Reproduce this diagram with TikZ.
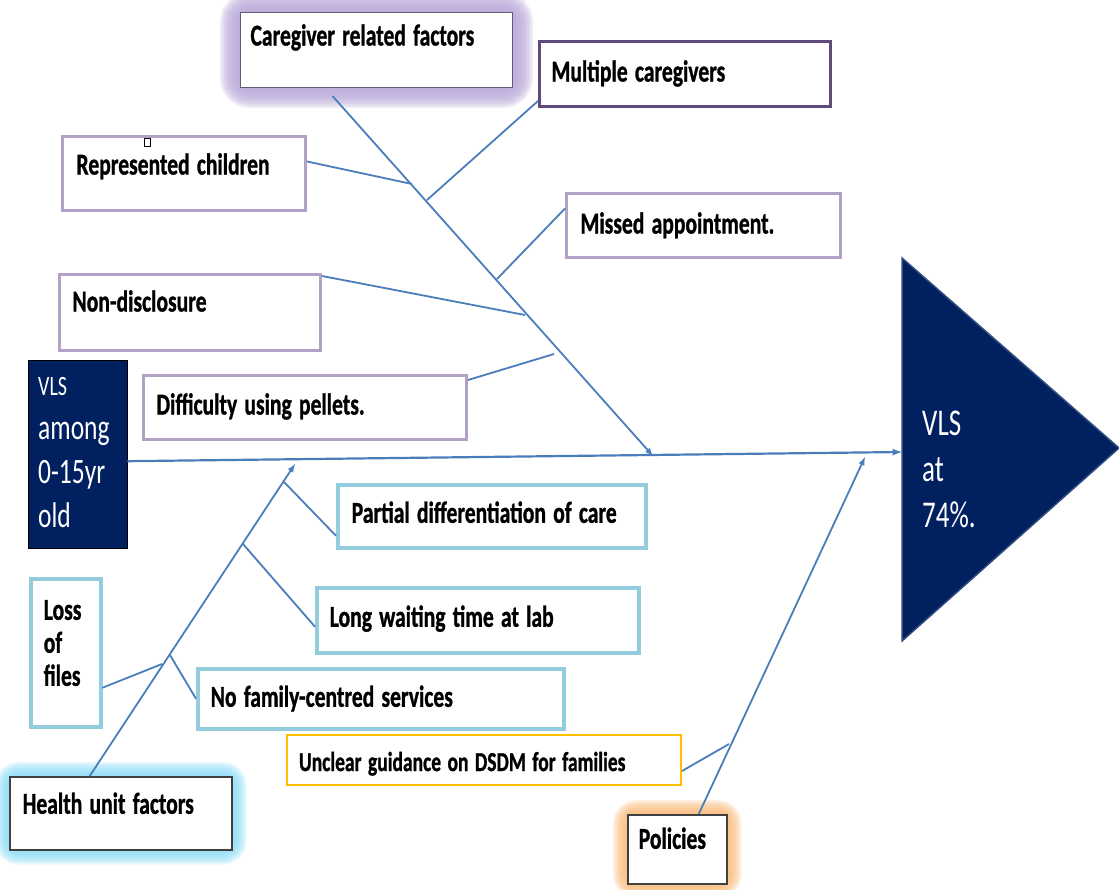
\documentclass[tikz,border=0pt]{standalone}
\usepackage{fontspec}
\setmainfont{Carlito}[BoldFeatures={FakeBold=1.2}]
\usepackage{graphicx}
\usepackage{tikz}
\usetikzlibrary{backgrounds}
\definecolor{boneblue}{HTML}{4A7EBB}
\definecolor{navy}{HTML}{002060}
\definecolor{headedge}{HTML}{2F4B80}
\definecolor{lavender}{HTML}{B3A2C7}
\definecolor{plum}{HTML}{604A7B}
\definecolor{skyline}{HTML}{93CDDD}
\definecolor{gold}{HTML}{FFC000}
\definecolor{boxgray}{HTML}{404040}
\definecolor{glowpurple}{HTML}{B9A8D8}
\definecolor{glowcyan}{HTML}{86DAF5}
\definecolor{gloworange}{HTML}{F9B672}
\newcommand{\tallt}[1]{\scalebox{1}[1.4]{#1}}

\begin{document}
\begin{tikzpicture}[>=latex, x=1pt, y=-1pt,
	factor/.style={draw=lavender, line width=3pt, fill=white, anchor=north west, inner xsep=12pt, inner ysep=0pt, align=left, font=\fontsize{21.6}{33}\selectfont\bfseries},
	bone/.style={boneblue, line width=1.8pt}]
	\useasboundingbox (0,0) rectangle (1119,889);

	\node[factor, draw=plum!70!gray, line width=1pt, inner xsep=10pt, text width=252pt, text height=33pt, text depth=42pt] (care) at (240,12) {\tallt{Caregiver related factors}};
	\node[factor, draw=plum, text width=267pt, text height=40pt, text depth=25pt] (multi) at (538,40) {\tallt{Multiple caregivers}};
	\node[factor, inner xsep=14pt, text width=215pt, text height=38pt, text depth=36pt] (repr) at (61,135) {\tallt{Represented children}};
	\node[factor, inner xsep=14pt, text width=246pt, text height=40pt, text depth=24pt] (missed) at (565,192) {\tallt{Missed appointment.}};
	\node[factor, inner xsep=13pt, text width=235pt, text height=37pt, text depth=39pt] (nondis) at (58,273) {\tallt{Non-disclosure}};
	\node[factor, inner xsep=13pt, text width=297pt, text height=39pt, text depth=25pt] (pellets) at (142,374) {\tallt{Difficulty using pellets.}};
	\node[factor, draw=skyline, line width=3.5pt, inner xsep=14pt, text width=280pt, text height=38pt, text depth=25pt] (partial) at (336,483) {\tallt{Partial differentiation of care}};
	\node[factor, draw=skyline, line width=3.5pt, inner xsep=13pt, text width=296pt, text height=39pt, text depth=26pt] (waiting) at (315,586) {\tallt{Long waiting time at lab}};
	\node[factor, draw=skyline, line width=3.5pt, inner xsep=13pt, text width=340pt, text height=38pt, text depth=22pt] (family) at (196,667) {\tallt{No family-centred services}};
	\node[factor, draw=skyline, line width=3.5pt, inner xsep=13pt, text width=44pt, text height=41pt, text depth=107pt] (files) at (29,577) {\tallt{Loss}\\\tallt{of}\\\tallt{files}};
	\node[factor, draw=gold, line width=2pt, inner xsep=12pt, text width=370pt, text height=36pt, text depth=14pt, font=\fontsize{19.5}{30}\selectfont\bfseries] (unclear) at (286,734) {\tallt{Unclear guidance on DSDM for families}};
	\node[factor, draw=boxgray, line width=1.5pt, inner xsep=13pt, text width=196pt, text height=37pt, text depth=36pt] (health) at (9,776) {\tallt{Health unit factors}};
	\node[factor, draw=boxgray, line width=1.5pt, inner xsep=11pt, text width=77pt, text height=34pt, text depth=35pt] (policies) at (627,814) {\tallt{Policies}};

	\node[draw=black, fill=navy, text=white, anchor=north west, inner xsep=10pt, inner ysep=0pt, align=left, text width=79pt, text height=35pt, text depth=153pt, font=\fontsize{25.5}{44}\selectfont] (vls) at (28,360) {{\fontsize{20}{44}\selectfont\tallt{VLS}}\\\tallt{among}\\\tallt{0-15yr}\\\tallt{old}};

	\filldraw[fill=navy, draw=headedge, line width=1.5pt] (902,258) -- (1119,448) -- (902,641) -- cycle;
	\node[text=white, anchor=base west, inner sep=0pt, align=left, text width=90pt, font=\fontsize{27}{46}\selectfont] (result) at (922,435) {\tallt{VLS}\\\tallt{at}\\\tallt{74\%.}};

	\draw[line width=0.6pt] (144,138) rectangle (150,146);

	\coordinate (head) at (902,452);
	\coordinate (cgtip) at (653,456);
	\coordinate (hutip) at (295,464);
	\coordinate (potip) at (865,457);
	\coordinate (jrepr) at (412,184);
	\coordinate (jmulti) at (427,200);
	\coordinate (jmissed) at (497,279);
	\coordinate (jnondis) at (525,315);
	\coordinate (jpellets) at (554,354);
	\coordinate (jpartial) at (284,482);
	\coordinate (jwaiting) at (243,544);
	\coordinate (jfamily) at (170,655);
	\coordinate (jfiles) at (162,664);
	\coordinate (junclear) at (729,744);

	\draw[bone, line width=2.2pt, ->] ([yshift=-7pt]vls.east) -- (head);
	\draw[bone, ->] ([shift={(-44pt,-8pt)}]care.south) -- (cgtip);
	\draw[bone, ->] ([xshift=-31pt]health.north) -- (hutip);
	\draw[bone, ->] ([xshift=21.5pt]policies.north) -- (potip);

	\draw[bone] ([yshift=12pt]repr.east) -- (jrepr);
	\draw[bone] ([yshift=7pt]multi.south west) -- (jmulti);
	\draw[bone] ([yshift=17pt]missed.west) -- (jmissed);
	\draw[bone] ([yshift=-3pt]nondis.north east) -- (jnondis);
	\draw[bone] ([yshift=-6pt]pellets.north east) -- (jpellets);
	\draw[bone] ([yshift=-19.5pt]partial.west) -- (jpartial);
	\draw[bone] ([yshift=-6.5pt]waiting.west) -- (jwaiting);
	\draw[bone] (family.west) -- (jfamily);
	\draw[bone] ([yshift=-35pt]files.east) -- (jfiles);
	\draw[bone] ([yshift=-11pt]unclear.east) -- (junclear);

	\begin{scope}[on background layer]
		\foreach \n/\c/\r in {care/glowpurple/40, health/glowcyan/28, policies/gloworange/28}
			\foreach \w in {4,8,...,\r}
				\draw[\c, line width=\w pt, opacity=0.22, rounded corners=10pt] (\n.south west) rectangle (\n.north east);
	\end{scope}
\end{tikzpicture}
\end{document}
